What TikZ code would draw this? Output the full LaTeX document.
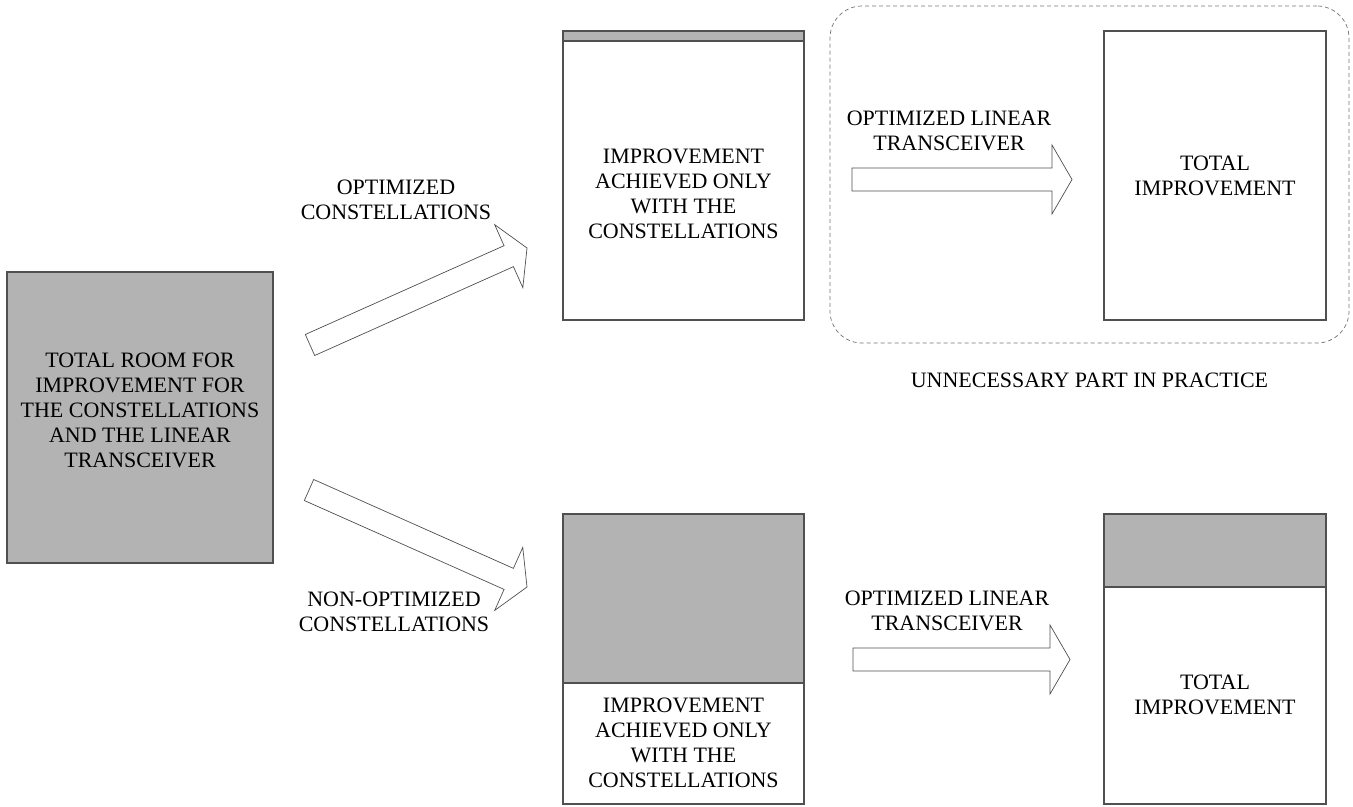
\documentclass[tikz,border=0pt]{standalone}
\usepackage{fontspec}
\setmainfont{Liberation Serif}
\usepackage{tikz}
\usetikzlibrary{calc,positioning}

\definecolor{boxgray}{RGB}{179,179,179}
\definecolor{edgegray}{RGB}{80,80,80}

\begin{document}
\begin{tikzpicture}[x=0.2mm, y=-0.2mm, semithick,
	whiteblock/.style={draw=edgegray, fill=white, inner sep=0pt},
	grayblock/.style={draw=edgegray, fill=boxgray, inner sep=0pt},
	dashedbox/.style={draw=black!55, dash pattern=on 0.8mm off 0.6mm, thin, rounded corners=6.4mm, inner sep=0pt},
	txt/.style={font=\fontsize{12.5}{14.2}\selectfont, align=center, inner sep=0pt},
	fatarrow/.style={draw=edgegray, fill=white, thin, to path={
		($(\tikztotarget)!4mm!(\tikztostart)$) coordinate (hb)
		($(\tikztostart)!2.3mm!90:(\tikztotarget)$) -- ($(hb)!2.3mm!90:(\tikztotarget)$)
		-- ($(hb)!6.9mm!90:(\tikztotarget)$) -- (\tikztotarget)
		-- ($(hb)!6.9mm!-90:(\tikztotarget)$) -- ($(hb)!2.3mm!-90:(\tikztotarget)$)
		-- ($(\tikztostart)!2.3mm!-90:(\tikztotarget)$) -- cycle}}]
	\useasboundingbox (0,0) rectangle (1353,806);

	% starting point
	\node[grayblock, minimum width=53.2mm, minimum height=58.2mm]	(ROOM)	at (140,417.5)	{};
	\node[txt]	(ROOMTXT)	at (140,410.5)	{TOTAL ROOM FOR\\IMPROVEMENT FOR\\THE CONSTELLATIONS\\AND THE LINEAR\\TRANSCEIVER};

	% upper branch
	\node[whiteblock, minimum width=48.2mm, minimum height=57.8mm]	(OPT)	at (683.5,175.5)	{};
	\node[grayblock, minimum width=48.2mm, minimum height=2mm, anchor=north]	(OPTTOP)	at (OPT.north)	{};
	\node[txt]	(OPTTXT)	at (683.5,194)	{IMPROVEMENT\\ACHIEVED ONLY\\WITH THE\\CONSTELLATIONS};
	\node[dashedbox, minimum width=103.8mm, minimum height=67.4mm]	(PRACTICE)	at (1089.5,174.5)	{};
	\node[whiteblock, minimum width=44.4mm, minimum height=57.8mm]	(TOTUP)	at (1215,175.5)	{};
	\node[txt]	(TOTUPTXT)	at (TOTUP)	{TOTAL\\IMPROVEMENT};
	\node[txt]	(PRACTXT)	at (1089.5,380)	{UNNECESSARY PART IN PRACTICE};

	% lower branch
	\node[whiteblock, minimum width=48.2mm, minimum height=58mm]	(NOPT)	at (683.5,659)	{};
	\node[grayblock, minimum width=48.2mm, minimum height=33.8mm, anchor=north]	(NOPTTOP)	at (NOPT.north)	{};
	\node[txt]	(NOPTTXT)	at (683.5,743)	{IMPROVEMENT\\ACHIEVED ONLY\\WITH THE\\CONSTELLATIONS};
	\node[whiteblock, minimum width=44.4mm, minimum height=58mm]	(TOTDN)	at (1215,659)	{};
	\node[grayblock, minimum width=44.4mm, minimum height=14.6mm, anchor=north]	(TOTDNTOP)	at (TOTDN.north)	{};
	\node[txt]	(TOTDNTXT)	at (1215,695)	{TOTAL\\IMPROVEMENT};

	% arrow ends
	\coordinate	(UPT)	at (310,345);
	\coordinate	(UPH)	at (527,248);
	\coordinate	(DNT)	at (309,490);
	\coordinate	(DNH)	at (527,587);
	\coordinate	(RUT)	at (852,179.5);
	\coordinate	(RUH)	at (1072,179.5);
	\coordinate	(RDT)	at (853,659.5);
	\coordinate	(RDH)	at (1070,659.5);

	\path	(UPT)	edge[fatarrow]	(UPH)
			(DNT)	edge[fatarrow]	(DNH)
			(RUT)	edge[fatarrow]	(RUH)
			(RDT)	edge[fatarrow]	(RDH);

	\node[txt]	(OPTLBL)	at (396,200)	{OPTIMIZED\\CONSTELLATIONS};
	\node[txt]	(NOPTLBL)	at (394,612)	{NON-OPTIMIZED\\CONSTELLATIONS};
	\node[txt]	(LINUP)	at (949,131)	{OPTIMIZED LINEAR\\TRANSCEIVER};
	\node[txt]	(LINDN)	at (947,611)	{OPTIMIZED LINEAR\\TRANSCEIVER};
\end{tikzpicture}
\end{document}
